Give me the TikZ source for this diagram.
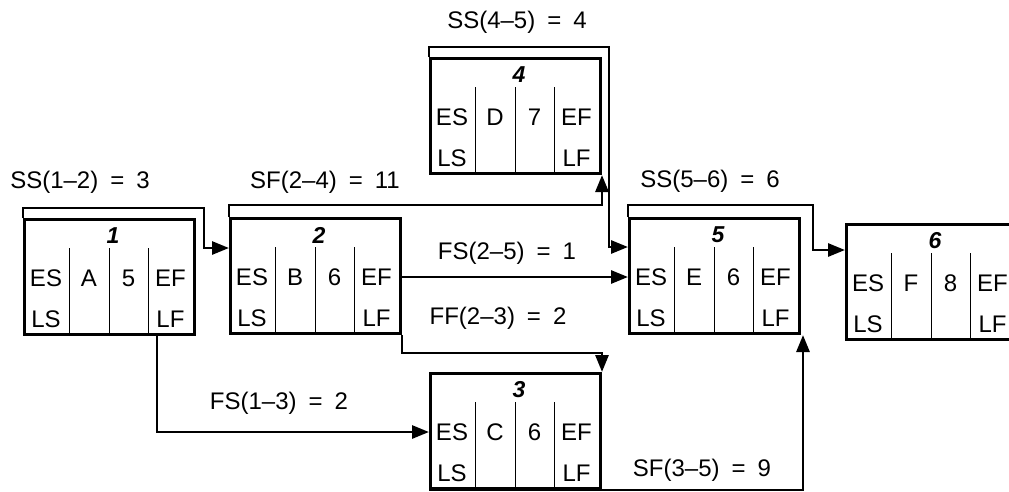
\documentclass[tikz,border=0pt]{standalone}
\usepackage{fontspec}
\setmainfont{Liberation Sans}
\usetikzlibrary{calc,arrows.meta}
\newcommand\eqq{\hspace{0.5em}=\hspace{0.5em}}
\tikzset{
  actbox/.style={draw, line width=3pt, minimum width=170pt, minimum height=115pt, anchor=north west, inner sep=0pt},
  divider/.style={line width=0.9pt},
  celltxt/.style={font=\fontsize{24}{24}\selectfont, inner sep=0pt},
  numtxt/.style={font=\fontsize{23}{23}\selectfont\bfseries\itshape, inner sep=0pt},
  lbl/.style={font=\fontsize{24}{24}\selectfont, inner sep=0pt},
  conn/.style={line width=2.8pt, line join=miter},
  arr/.style={conn, -{Triangle[length=17pt,width=13pt]}},
}
\newcommand\actbox[6]{%
  \node[actbox] (#1) at (#2,#3) {};
  \foreach \dx in {46,86,125} {\draw[divider] ($(#1.north west)+(\dx,30)$) -- ($(#1.south west)+(\dx,0)$);}
  \node[numtxt] (#1n) at ($(#1.north west)+(90,18)$) {#4};
  \node[celltxt] (#1es) at ($(#1.north west)+(23,60)$) {ES};
  \node[celltxt] (#1nm) at ($(#1.north west)+(66,60)$) {#5};
  \node[celltxt] (#1du) at ($(#1.north west)+(105.5,60)$) {#6};
  \node[celltxt] (#1ef) at ($(#1.north west)+(147.5,60)$) {EF};
  \node[celltxt] (#1ls) at ($(#1.north west)+(23,101)$) {LS};
  \node[celltxt] (#1lf) at ($(#1.north west)+(147.5,101)$) {LF};
}
\begin{document}
\begin{tikzpicture}[x=1pt,y=-1pt]
\useasboundingbox (0,0) rectangle (1009,491);
\fill[white] (0,0) rectangle (1009,491);
\actbox{b1}{23}{218}{1}{A}{5}
\actbox{b2}{229}{217}{2}{B}{6}
\actbox{b4}{429}{57}{4}{D}{7}
\actbox{b5}{628}{217}{5}{E}{6}
\actbox{b6}{845}{223}{6}{F}{8}
\actbox{b3}{429}{372}{3}{C}{6}
% connectors
\draw[arr] (b1.north west) -- ++(0,-10) -| ($(b1.north east)+(8,30)$) -- ($(b2.north west)+(0,31)$);
\draw[arr] (b2.north west) -- ++(0,-12) -| (b4.south east);
\draw[arr] (b4.north west) -- ++(0,-10) -| ($(b5.north west)+(-19,30)$) -- ($(b5.north west)+(0,30)$);
\draw[arr] (b5.north west) -- ++(0,-12) -| ($(b6.north west)+(-32,27)$) -- ($(b6.north west)+(0,27)$);
\draw[arr] ($(b2.north east)+(0,60)$) -- ($(b5.north west)+(0,60)$);
\draw[arr] (b2.south east) -- ++(0,18) -| (b3.north east);
\draw[arr] ($(b1.south west)+(134,0)$) |- ($(b3.north west)+(0,60)$);
\draw[arr] (b3.south west) -| ($(b5.south east)+(2,0)$);
% labels
\node[lbl] (l12) at (80,182) {SS(1--2)\eqq 3};
\node[lbl] (l24) at (325,182) {SF(2--4)\eqq 11};
\node[lbl] (l45) at (517,22) {SS(4--5)\eqq 4};
\node[lbl] (l56) at (710,181) {SS(5--6)\eqq 6};
\node[lbl] (l25) at (507,253) {FS(2--5)\eqq 1};
\node[lbl] (l23) at (498,318) {FF(2--3)\eqq 2};
\node[lbl] (l13) at (279,403) {FS(1--3)\eqq 2};
\node[lbl] (l35) at (702,470) {SF(3--5)\eqq 9};
\end{tikzpicture}
\end{document}
